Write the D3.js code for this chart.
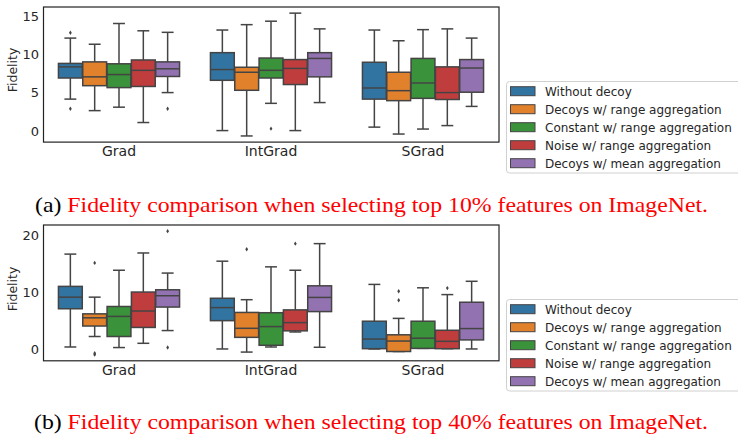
<!DOCTYPE html>
<html>
<head>
<meta charset="utf-8">
<script src="https://cdn.jsdelivr.net/npm/d3@7"></script>
<style>
  body { margin: 0; background: #fff; }
  svg { display: block; }
</style>
</head>
<body>
<div id="chart"></div>
<script>
// Box plot stats: [whiskerLow, q1, median, q3, whiskerHigh]
var methods = ["Grad", "IntGrad", "SGrad"],
  variants = ["Without decoy", "Decoys w/ range aggregation", "Constant w/ range aggregation",
    "Noise w/ range aggregation", "Decoys w/ mean aggregation"],
  colors = ["#3274a1", "#e1812c", "#3a923a", "#c03d3e", "#9372b2"];

// (a) top 10% features
var statsTop10 = [
  [[4.15, 6.9, 8.35, 8.8, 12.1], [2.65, 5.9, 7.05, 9.0, 11.3], [3.1, 5.65, 7.35, 8.75, 14.0],
   [1.1, 5.8, 7.9, 9.25, 13.05], [5.0, 7.1, 8.1, 9.0, 12.85]],
  [[0.05, 6.6, 8.0, 10.2, 13.15], [-0.65, 5.3, 7.65, 8.3, 13.85], [3.6, 6.9, 7.9, 9.5, 14.3],
   [0.05, 6.05, 8.15, 9.3, 15.35], [3.7, 7.05, 9.45, 10.2, 13.3]],
  [[0.5, 4.15, 5.6, 8.95, 13.15], [-0.4, 3.95, 5.25, 7.65, 11.75], [0.25, 4.25, 6.25, 9.45, 13.2],
   [0.7, 4.1, 5.0, 8.35, 13.3], [3.2, 5.05, 8.2, 9.3, 12.1]]
];
var outliersTop10 = [
  [[12.8, 2.9], [], [], [], [2.9]],
  [[], [], [0.3], [], []],
  [[], [], [], [], []]
];

// (b) top 40% features
var statsTop40 = [
  [[0.35, 7.1, 9.15, 11.05, 16.75], [2.2, 4.05, 5.5, 6.2, 9.15], [0.25, 2.2, 5.75, 7.5, 13.9],
   [1.0, 3.8, 6.7, 10.05, 16.95], [3.25, 7.4, 9.4, 10.45, 13.4]],
  [[0.0, 5.0, 7.3, 8.95, 15.5], [-0.55, 2.05, 3.65, 6.45, 8.7], [0.35, 0.65, 3.95, 6.4, 14.5],
   [3.0, 3.2, 4.65, 6.9, 13.9], [0.3, 6.6, 9.1, 11.15, 18.6]],
  [[0.0, 0.05, 1.75, 4.9, 11.4], [-0.45, -0.45, 1.4, 2.5, 5.4], [0.1, 0.1, 1.9, 4.9, 10.8],
   [0.05, 0.05, 1.35, 3.3, 9.6], [0.0, 1.6, 3.6, 8.25, 11.95]]
];
var outliersTop40 = [
  [[], [15.2, -0.75, -1.0], [], [], [20.8, 0.25]],
  [[], [17.6], [], [18.6], []],
  [[], [10.2, 8.6], [], [10.75], []]
];

var ticksTop10 = [0, 5, 10, 15],
  ticksTop40 = [0, 10, 20];

var captionTop10 = "Fidelity comparison when selecting top 10% features on ImageNet.",
  captionTop40 = "Fidelity comparison when selecting top 40% features on ImageNet.";

var W = 738, H = 434,
  lineGray = "#444",
  sans = "DejaVu Sans, sans-serif",
  serif = "Liberation Serif, Times New Roman, serif";

var svg = d3.select("#chart").append("svg")
  .attr("width", W)
  .attr("height", H);

function drawPanel(opt) {
  var x = d3.scaleBand().domain(methods).range([43, 499]).paddingInner(0).paddingOuter(0);
  var y = d3.scaleLinear().domain(opt.domain).range([opt.bottom, opt.top]);
  var hue = d3.scaleBand().domain(d3.range(variants.length))
    .range([-0.4 * x.bandwidth(), 0.4 * x.bandwidth()]);
  var bw = hue.bandwidth() * 0.98;

  var g = svg.append("g");

  // y axis labels (no tick marks, like the seaborn style)
  g.selectAll(".ytick").data(opt.ticks).enter().append("text")
    .attr("x", 39)
    .attr("y", function(d) { return y(d); })
    .attr("dy", "0.36em")
    .attr("text-anchor", "end")
    .attr("font-family", sans)
    .attr("font-size", 13)
    .attr("fill", "#262626")
    .text(function(d) { return d; });

  g.append("text")
    .attr("transform", "translate(17," + opt.labelY + ")rotate(-90)")
    .attr("text-anchor", "middle")
    .attr("font-family", sans)
    .attr("font-size", 12.5)
    .attr("fill", "#262626")
    .text("Fidelity");

  // x category labels
  g.selectAll(".xtick").data(methods).enter().append("text")
    .attr("x", function(d) { return x(d) + x.bandwidth() / 2; })
    .attr("y", opt.bottom + 14)
    .attr("text-anchor", "middle")
    .attr("font-family", sans)
    .attr("font-size", 14)
    .attr("fill", "#262626")
    .text(function(d) { return d; });

  methods.forEach(function(m, i) {
    variants.forEach(function(v, j) {
      var s = opt.stats[i][j];
      var cx = x(m) + x.bandwidth() / 2 + hue(j) + hue.bandwidth() / 2;
      var bg = g.append("g");
      // whiskers
      bg.append("line")
        .attr("x1", cx).attr("x2", cx)
        .attr("y1", y(s[0])).attr("y2", y(s[1]))
        .attr("stroke", lineGray).attr("stroke-width", 1.5);
      bg.append("line")
        .attr("x1", cx).attr("x2", cx)
        .attr("y1", y(s[3])).attr("y2", y(s[4]))
        .attr("stroke", lineGray).attr("stroke-width", 1.5);
      // caps
      [s[0], s[4]].forEach(function(c) {
        bg.append("line")
          .attr("x1", cx - bw / 4).attr("x2", cx + bw / 4)
          .attr("y1", y(c)).attr("y2", y(c))
          .attr("stroke", lineGray).attr("stroke-width", 1.5);
      });
      // box
      bg.append("rect")
        .attr("x", cx - bw / 2)
        .attr("width", bw)
        .attr("y", y(s[3]))
        .attr("height", Math.max(0.5, y(s[1]) - y(s[3])))
        .attr("fill", colors[j])
        .attr("stroke", lineGray)
        .attr("stroke-width", 1.5);
      // median
      bg.append("line")
        .attr("x1", cx - bw / 2).attr("x2", cx + bw / 2)
        .attr("y1", y(s[2])).attr("y2", y(s[2]))
        .attr("stroke", lineGray).attr("stroke-width", 1.5);
      // fliers, thin diamonds
      bg.selectAll(".flier").data(opt.outliers[i][j]).enter().append("path")
        .attr("d", function(d) {
          var py = y(d);
          return "M" + cx + "," + (py - 2.2) + "L" + (cx + 1.4) + "," + py +
            "L" + cx + "," + (py + 2.2) + "L" + (cx - 1.4) + "," + py + "Z";
        })
        .attr("fill", lineGray);
    });
  });

  // frame
  g.append("rect")
    .attr("x", 43.5).attr("y", opt.top)
    .attr("width", 455.5).attr("height", opt.bottom - opt.top)
    .attr("fill", "none")
    .attr("stroke", "#222")
    .attr("stroke-width", 1.2);

  // legend
  var lg = g.append("g");
  lg.append("rect")
    .attr("x", 506.5).attr("y", opt.legendTop)
    .attr("width", 250).attr("height", 91.5)
    .attr("rx", 3)
    .attr("fill", "#fff")
    .attr("stroke", "#d0d0d0")
    .attr("stroke-width", 1);
  variants.forEach(function(v, j) {
    var ly = opt.legendTop + 9.7 + j * 18;
    lg.append("rect")
      .attr("x", 510.5).attr("y", ly - 4.5)
      .attr("width", 24.5).attr("height", 9)
      .attr("fill", colors[j])
      .attr("stroke", lineGray)
      .attr("stroke-width", 1);
    lg.append("text")
      .attr("x", 545).attr("y", ly)
      .attr("dy", "0.36em")
      .attr("font-family", sans)
      .attr("font-size", 12)
      .attr("fill", "#262626")
      .text(v);
  });

  // caption
  var cap = svg.append("text")
    .attr("x", opt.capX).attr("y", opt.capY)
    .attr("font-family", serif)
    .attr("font-size", 21.5)
    .attr("textLength", opt.capLen)
    .attr("lengthAdjust", "spacingAndGlyphs");
  cap.append("tspan").attr("fill", "#000").text(opt.capLabel + " ");
  cap.append("tspan").attr("fill", "#ff0000").text(opt.caption);
}

drawPanel({
  stats: statsTop10, outliers: outliersTop10, ticks: ticksTop10,
  domain: [-1.45, 16.15], top: 7, bottom: 142.1, labelY: 70,
  legendTop: 81.5,
  capLabel: "(a)", caption: captionTop10, capX: 35, capY: 211.5, capLen: 673
});

drawPanel({
  stats: statsTop40, outliers: outliersTop40, ticks: ticksTop40,
  domain: [-2.09, 21.89], top: 225, bottom: 360.8, labelY: 289,
  legendTop: 299.5,
  capLabel: "(b)", caption: captionTop40, capX: 34, capY: 428.5, capLen: 674
});
</script>
</body>
</html>
